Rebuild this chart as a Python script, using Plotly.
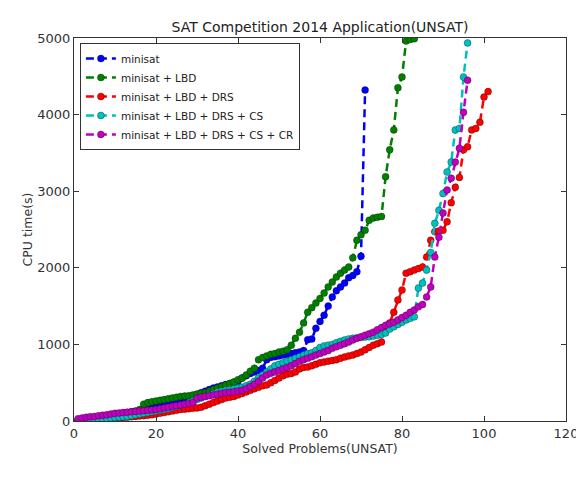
import plotly.graph_objects as go

names = ["minisat", "minisat + LBD", "minisat + LBD + DRS",
         "minisat + LBD + DRS + CS", "minisat + LBD + DRS + CS + CR"]
colors = ["#0000ff", "#008000", "#ff0000", "#00bfbf", "#bf00bf"]

minisat = [10, 15, 20, 25, 30, 35, 40, 50, 55, 60,
           70, 80, 90, 100, 110, 120, 135, 150, 165, 180,
           190, 200, 215, 230, 250, 270, 290, 310, 330, 350,
           370, 390, 410, 430, 445, 460, 475, 490, 505, 520,
           560, 590, 620, 640, 660, 690, 800, 830, 840, 850,
           860, 870, 880, 890, 900, 920, 1060, 1070, 1210, 1300,
           1380, 1500, 1620, 1700, 1750, 1800, 1870, 1900, 1950, 2150,
           4320]

lbd = [10, 15, 20, 25, 30, 40, 50, 60, 70, 80,
       90, 100, 110, 120, 130, 150, 220, 240, 250, 260,
       270, 280, 290, 300, 310, 320, 325, 330, 340, 350,
       360, 370, 390, 410, 430, 450, 470, 490, 510, 540,
       560, 600, 650, 690, 800, 830, 850, 870, 880, 900,
       910, 930, 990, 1080, 1160, 1280, 1420, 1480, 1540, 1600,
       1670, 1750, 1815, 1880, 1930, 1970, 2010, 2130, 2360, 2430,
       2490, 2620, 2650, 2660, 2670, 3190, 3540, 3800, 4350, 4490,
       4960, 4980, 4990]

drs = [5, 8, 10, 12, 15, 18, 20, 25, 30, 35,
       40, 45, 50, 55, 60, 65, 70, 75, 80, 90,
       100, 110, 120, 130, 140, 150, 155, 160, 165, 170,
       180, 200, 220, 240, 260, 280, 300, 310, 320, 340,
       360, 380, 400, 420, 440, 460, 470, 500, 530, 560,
       590, 610, 620, 640, 680, 700, 705, 720, 740, 760,
       770, 780, 790, 800, 820, 835, 850, 860, 880, 900,
       930, 960, 990, 1010, 1030, 1190, 1280, 1420, 1580, 1710,
       1930, 1950, 1970, 1990, 2010, 2140, 2360, 2470, 2480, 2490,
       2600, 2850, 3050, 3180, 3540, 3580, 3800, 3820, 3900, 4230,
       4300]

cs = [5, 8, 10, 15, 20, 25, 30, 35, 40, 45,
      50, 55, 60, 70, 80, 90, 100, 110, 120, 130,
      140, 150, 160, 175, 190, 205, 220, 240, 260, 280,
      300, 320, 340, 360, 380, 390, 400, 410, 420, 430,
      440, 460, 480, 520, 560, 600, 640, 680, 720, 740,
      760, 780, 800, 820, 840, 860, 880, 890, 920, 960,
      980, 990, 1000, 1020, 1040, 1057, 1070, 1080, 1085, 1090,
      1095, 1100, 1110, 1120, 1130, 1150, 1200, 1230, 1260, 1290,
      1320, 1340, 1360, 1735, 1800, 1970, 2200, 2580, 2750, 2970,
      3250, 3380, 3800, 3820, 4490, 4935]

cr = [30, 40, 50, 55, 60, 70, 75, 80, 90, 100,
      105, 110, 115, 120, 125, 130, 135, 140, 145, 150,
      160, 170, 180, 190, 200, 210, 220, 230, 240, 300,
      310, 320, 330, 340, 350, 360, 370, 375, 380, 390,
      400, 420, 450, 480, 520, 560, 600, 625, 640, 660,
      680, 700, 720, 750, 780, 800, 820, 840, 860, 880,
      900, 920, 950, 970, 990, 1010, 1030, 1057, 1080, 1100,
      1120, 1140, 1160, 1190, 1220, 1250, 1270, 1290, 1320, 1350,
      1380, 1420, 1450, 1490, 1520, 1620, 1750, 2140, 2400, 2715,
      3015, 3170, 3380, 3560, 4030, 4450]

series = [minisat, lbd, drs, cs, cr]

fig = go.Figure()
for name, col, ys in zip(names, colors, series):
    fig.add_trace(go.Scatter(
        x=list(range(1, len(ys) + 1)), y=ys, name=name, mode="lines+markers",
        line=dict(color=col, width=2.5, dash="8px,5px"),
        marker=dict(color=col, size=7, line=dict(color="rgba(0,0,0,0.5)", width=0.6)),
        cliponaxis=True,
    ))

axis_common = dict(showgrid=False, zeroline=False, showline=True, linecolor="#333",
                   linewidth=1, mirror="ticks", ticks="inside", ticklen=5,
                   tickcolor="#333", tickfont=dict(size=13, color="#333"),
                   automargin=False)

fig.update_layout(
    width=576, height=479,
    margin=dict(l=74, r=10, t=38, b=58, autoexpand=False),
    paper_bgcolor="white", plot_bgcolor="white",
    font=dict(family="DejaVu Sans", color="#333"),
    title=dict(text="SAT Competition 2014 Application(UNSAT)", x=0.5556, xanchor="center",
               y=0.943, yanchor="middle", font=dict(size=14, color="#222")),
    xaxis=dict(range=[0, 120], dtick=20, ticklabeloverflow="allow",
               title=dict(text="Solved Problems(UNSAT)", font=dict(size=12.5), standoff=4),
               **axis_common),
    yaxis=dict(range=[0, 5000], dtick=1000,
               title=dict(text="CPU time(s)", font=dict(size=12.5), standoff=1),
               **axis_common),
    legend=dict(x=0.012, y=0.987, xanchor="left", yanchor="top",
                bordercolor="#333", borderwidth=1, bgcolor="white",
                font=dict(size=10.5, color="#222"), tracegroupgap=0, itemwidth=30),
    showlegend=True,
)

fig.write_html("out.html")
